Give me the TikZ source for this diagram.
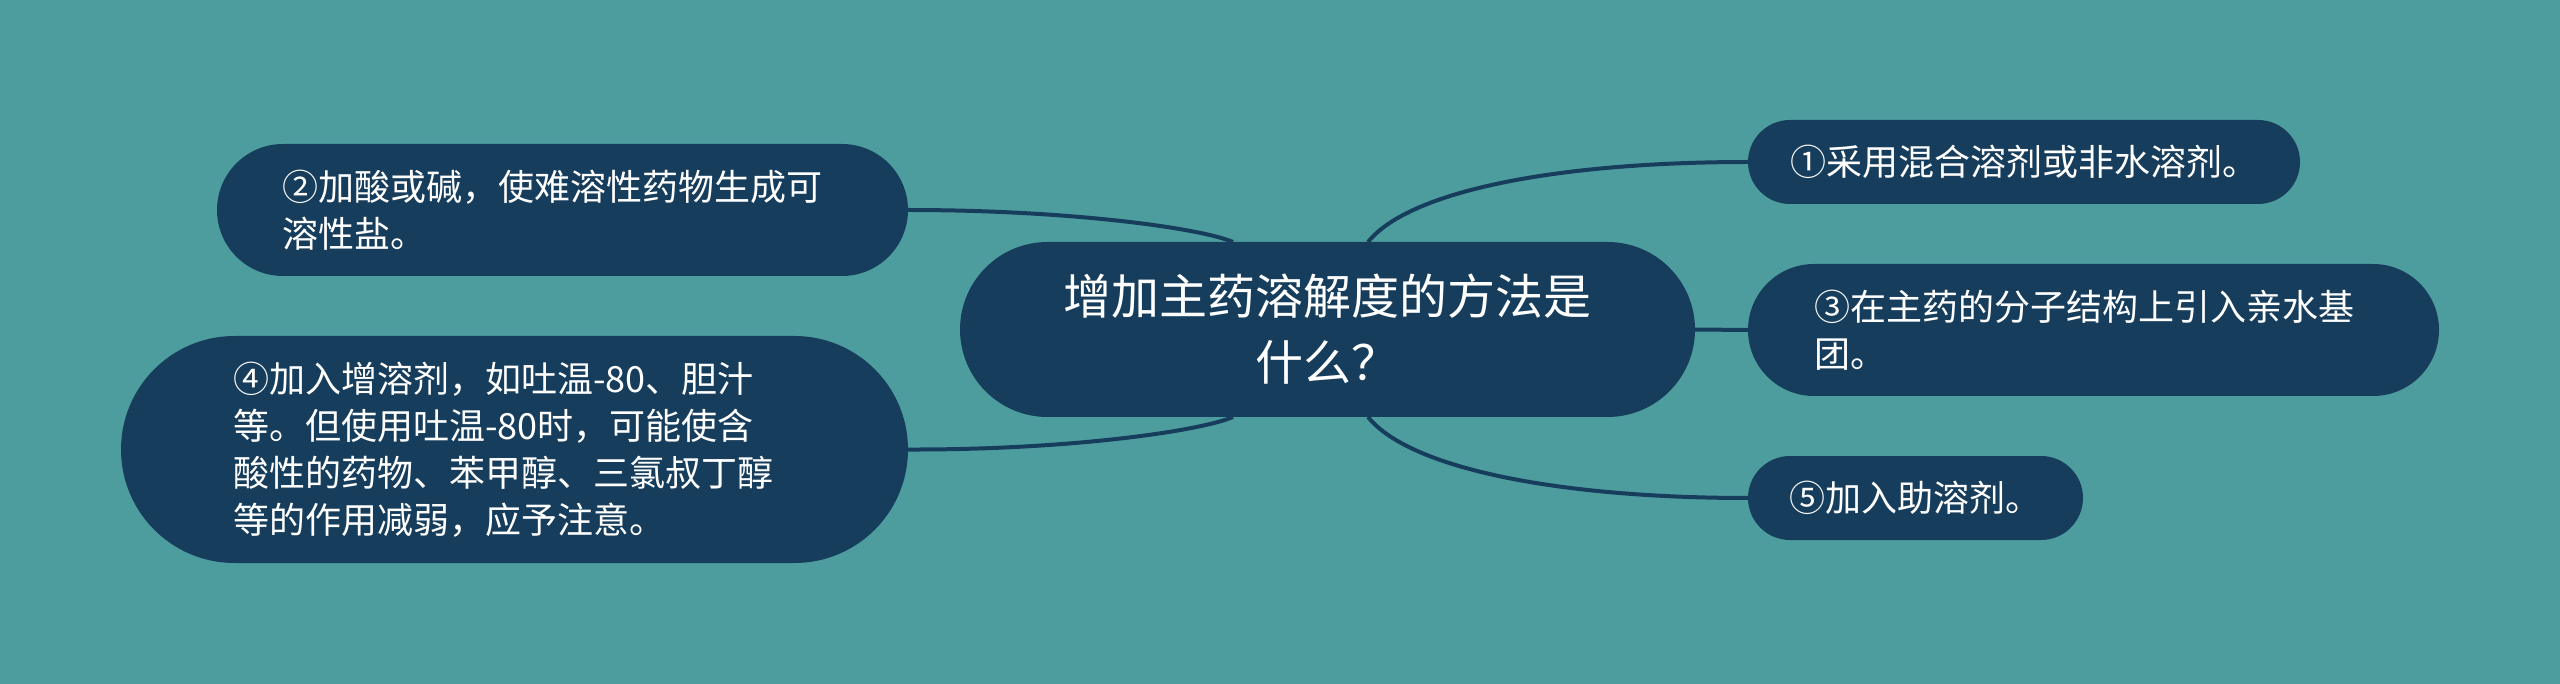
\documentclass[tikz,border=0pt]{standalone}
\usepackage{fontspec}
\setmainfont{Noto Sans CJK SC}
\definecolor{bgc}{RGB}{78,157,158}
\definecolor{nodec}{RGB}{23,61,92}
\begin{document}
\begin{tikzpicture}[x=1pt,y=-1pt,
  pill/.style={fill=nodec, text=white, inner ysep=0pt, outer sep=0pt},
  conn/.style={draw=nodec, line width=4pt},
  small/.style={font=\fontsize{36pt}{47pt}\selectfont},
]
\fill[bgc] (0,0) rectangle (2560,684);
\useasboundingbox (0,0) rectangle (2560,684);

\node[pill, minimum width=735pt, minimum height=175pt, rounded corners=87.5pt,
      align=center, inner xsep=0pt, font=\fontsize{48pt}{66pt}\selectfont]
  (c) at (1327.5,329.5) {增加主药溶解度的方法是\\什么？};

\node[pill, small, minimum width=691pt, minimum height=132pt, rounded corners=66pt,
      text width=561pt, inner xsep=65pt, align=left]
  (n2) at (562.5,210) {②加酸或碱，使难溶性药物生成可\\溶性盐。};

\node[pill, small, minimum width=787pt, minimum height=227pt, rounded corners=113.5pt,
      text width=563pt, inner xsep=112pt, align=left]
  (n4) at (514.5,449.5) {④加入增溶剂，如吐温-80、胆汁\\等。但使用吐温-80时，可能使含\\酸性的药物、苯甲醇、三氯叔丁醇\\等的作用减弱，应予注意。};

\node[pill, small, minimum width=552pt, minimum height=84pt, rounded corners=42pt,
      inner xsep=0pt]
  (n1) at (2024,162) {①采用混合溶剂或非水溶剂。};

\node[pill, small, minimum width=691pt, minimum height=132pt, rounded corners=66pt,
      text width=559pt, inner xsep=66pt, align=left]
  (n3) at (2093.5,330) {③在主药的分子结构上引入亲水基\\团。};

\node[pill, small, minimum width=335pt, minimum height=84pt, rounded corners=42pt,
      inner xsep=0pt]
  (n5) at (1915.5,498) {⑤加入助溶剂。};

\draw[conn] ([xshift=40.5pt]c.north) .. controls (1410,190) and (1560,162) .. (n1.west);
\draw[conn] (c.east) -- (n3.west);
\draw[conn] ([xshift=40.5pt]c.south) .. controls (1410,469) and (1560,498) .. (n5.west);
\draw[conn] ([xshift=-94.5pt]c.north) .. controls (1200,228) and (1070,210) .. (n2.east);
\draw[conn] ([xshift=-94.5pt]c.south) .. controls (1200,431) and (1070,450) .. (n4.east);
\end{tikzpicture}
\end{document}
